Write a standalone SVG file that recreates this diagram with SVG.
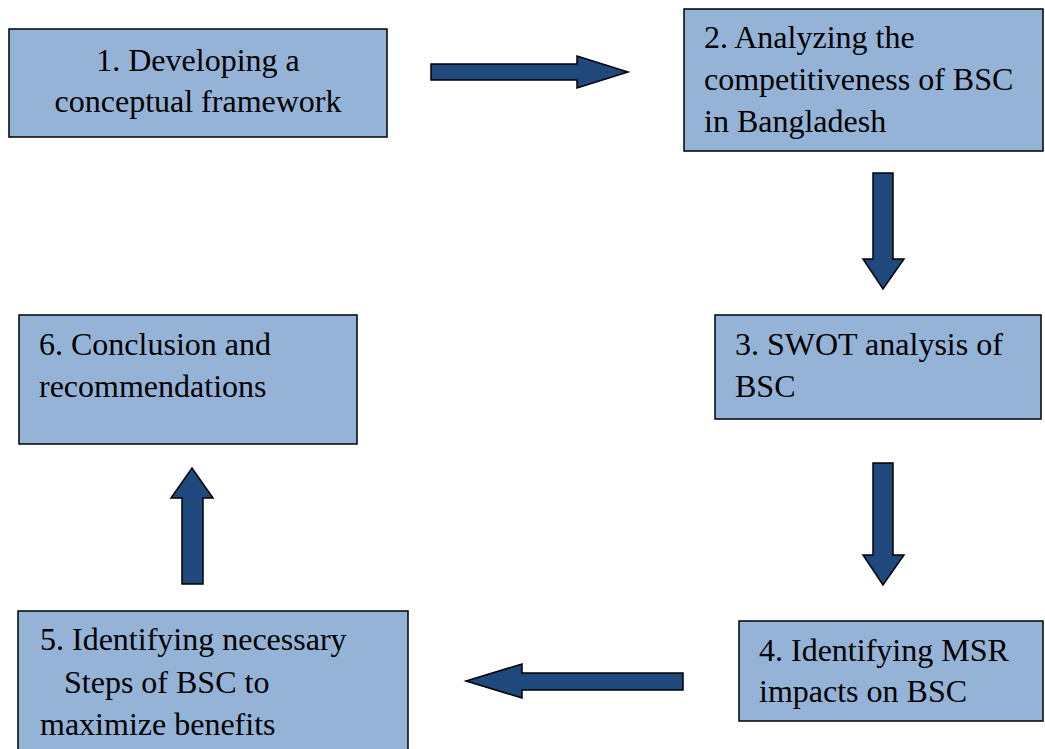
<svg xmlns="http://www.w3.org/2000/svg" width="1045" height="749" viewBox="0 0 1045 749">
<style>
.box{fill:#95b3d7;stroke:#000;stroke-width:1.5}
.arr{fill:#1f497d;stroke:#000;stroke-width:1.5;stroke-linejoin:miter}
text{font-family:"Liberation Serif","Times New Roman",serif;font-size:32px;fill:#000}
</style>
<rect width="1045" height="749" fill="#fff"/>
<g id="node1"><rect class="box" x="9" y="29" width="378" height="108"/>
<text x="198" y="71" text-anchor="middle">1. Developing a</text>
<text x="198" y="112" text-anchor="middle">conceptual framework</text></g>
<g id="node2"><rect class="box" x="684" y="9" width="359" height="142"/>
<text x="704" y="48">2. Analyzing the</text>
<text x="704" y="90">competitiveness of BSC</text>
<text x="704" y="132">in Bangladesh</text></g>
<g id="node3"><rect class="box" x="715" y="315" width="326" height="104"/>
<text x="735" y="355">3. SWOT analysis of</text>
<text x="735" y="397">BSC</text></g>
<g id="node4"><rect class="box" x="739" y="621" width="304" height="100"/>
<text x="759" y="661">4. Identifying MSR</text>
<text x="759" y="702">impacts on BSC</text></g>
<g id="node5"><rect class="box" x="18" y="611" width="390" height="145"/>
<text x="40" y="650">5. Identifying necessary</text>
<text x="64" y="693">Steps of BSC to</text>
<text x="40" y="735">maximize benefits</text></g>
<g id="node6"><rect class="box" x="19" y="315" width="338" height="129"/>
<text x="39" y="355">6. Conclusion and</text>
<text x="39" y="397">recommendations</text></g>
<g id="connectors">
<polygon class="arr" points="431,64 577,64 577,56 628,72 577,88 577,80 431,80"/>
<polygon class="arr" points="873,173 893,173 893,259 904,259 883,289 863,259 873,259"/>
<polygon class="arr" points="873,463 893,463 893,555 904,555 883,585 863,555 873,555"/>
<polygon class="arr" points="683,673 683,690 522,690 522,698 466,681 522,664 522,673"/>
<polygon class="arr" points="182,584 203,584 203,498 213,498 192,468 171,498 182,498"/>
</g>
</svg>
